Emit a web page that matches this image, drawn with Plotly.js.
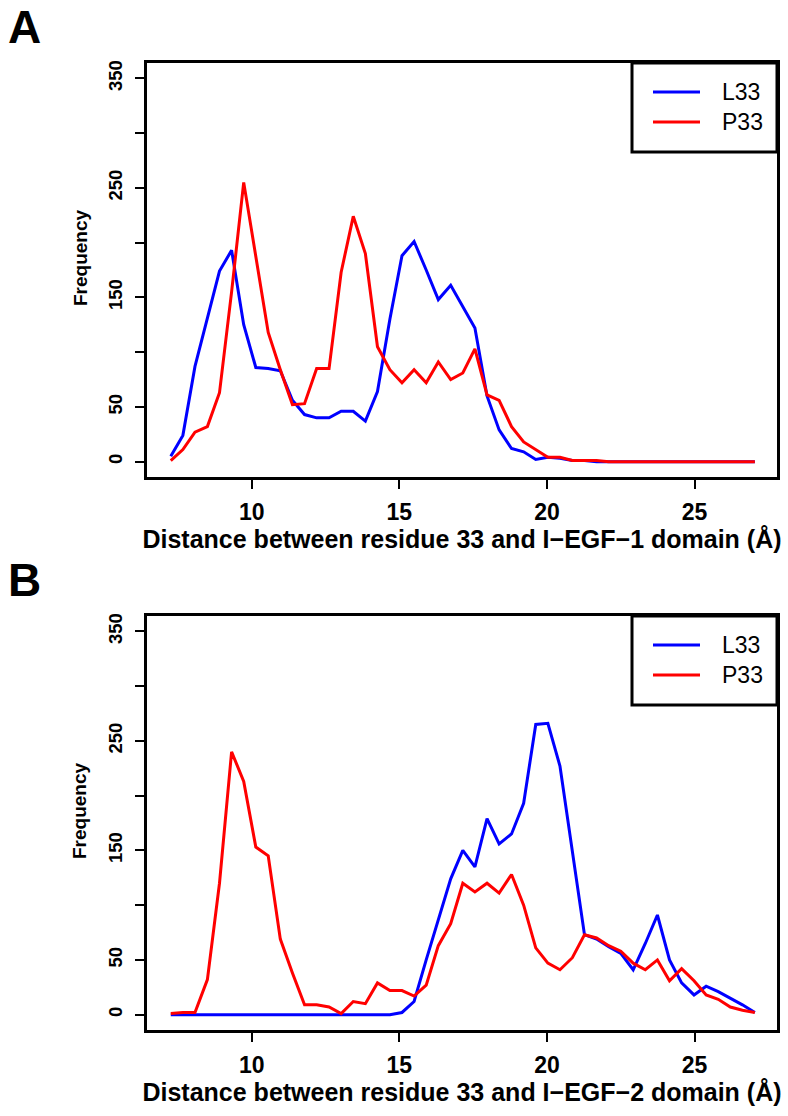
<!DOCTYPE html>
<html><head><meta charset="utf-8">
<script src="https://cdn.plot.ly/plotly-3.0.1.min.js"></script>
<style>body{margin:0;background:#fff}#c{width:788px;height:1116px}</style>
</head><body><div id="c"></div>
<script>
// Bin centres (distance, Å)
const distance = [7.26,7.67,8.08,8.50,8.91,9.32,9.73,10.14,10.56,10.97,11.38,11.79,12.20,12.62,13.03,13.44,13.85,14.26,14.68,15.09,15.50,15.91,16.32,16.74,17.15,17.56,17.97,18.38,18.80,19.21,19.62,20.03,20.44,20.86,21.27,21.68,22.09,22.50,22.92,23.33,23.74,24.15,24.56,24.98,25.39,25.80,26.21,26.62,27.04];
// Panel A: residue 33 to I-EGF-1 domain
const A_L33 = [5,24,87,130,174,193,125,86,85,83,56,43,40,40,46,46,37,64,130,188,201,175,148,161,142,122,60,29,12,9,2,4,3,1,1,0,0,0,0,0,0,0,0,0,0,0,0,0,0];
const A_P33 = [1,11,27,32,63,155,255,186,118,84,52,53,85,85,173,224,190,105,84,72,84,72,91,75,81,103,61,56,32,18,11,4,4,1,1,1,0,0,0,0,0,0,0,0,0,0,0,0,0];
// Panel B: residue 33 to I-EGF-2 domain
const B_L33 = [0,0,0,0,0,0,0,0,0,0,0,0,0,0,0,0,0,0,0,2,12,50,86,124,150,135,179,156,165,193,265,266,227,147,73,69,62,56,41,65,91,50,29,18,26,21,15,9,2];
const B_P33 = [1,2,2,32,120,240,213,153,145,69,38,9,9,7,1,12,10,29,22,22,17,27,63,83,120,112,120,111,128,100,61,47,41,52,73,70,63,58,47,41,50,31,42,31,18,14,7,4,2];
// Ticks
const xTicks = [10,15,20,25];
const yTicks = [0,50,100,150,200,250,300,350];
const yTickText = ['0','50','','150','','250','','350'];
const seriesNames = ['L33','P33'];
const seriesColors = ['#0000FF','#FF0000'];
const xTitleA = 'Distance between residue 33 and I\u2212EGF\u22121 domain (\u00C5)';
const xTitleB = 'Distance between residue 33 and I\u2212EGF\u22122 domain (\u00C5)';
const yTitle = 'Frequency';
const panelLabels = ['A','B'];

const FONT = 'Liberation Sans, Arial, sans-serif';
function tr(y, i, xa, ya){
  return {x: distance, y: y, type:'scatter', mode:'lines', name: seriesNames[i], showlegend:false,
    line:{color: seriesColors[i], width:3}, xaxis: xa, yaxis: ya};
}
const data = [
  tr(A_L33,0,'x','y'), tr(A_P33,1,'x','y'),
  tr(B_L33,0,'x2','y2'), tr(B_P33,1,'x2','y2')
];
const W=788,H=1116;
const px = v => v/W, py = v => 1 - v/H;
function xax(title, anchor){
  return {domain:[px(147),px(777)], anchor:anchor, range:[6.455,27.79], tickvals:xTicks,
    ticks:'outside', ticklen:9, tickwidth:2, tickcolor:'#000', showline:true, mirror:true,
    linewidth:3, linecolor:'#000', showgrid:false, zeroline:false, ticklabelstandoff:3,
    tickfont:{family:FONT,size:23,color:'#000',weight:'bold'},
    title:{text:title, font:{family:FONT,size:25,color:'#000',weight:'bold'}, standoff:5}};
}
function yax(top,bottom,anchor){
  return {domain:[py(bottom),py(top)], anchor:anchor, range:[-14,364], tickvals:yTicks, ticktext:yTickText,
    tickangle:-90, ticks:'outside', ticklen:9, tickwidth:2, tickcolor:'#000', showline:true, mirror:true,
    linewidth:3, linecolor:'#000', showgrid:false, zeroline:false, ticklabelstandoff:6,
    tickfont:{family:FONT,size:18.5,color:'#000',weight:'bold'}};
}
// legend boxes drawn in pixel geometry of each panel
function legendItems(top){
  const shapes = [
    {type:'rect', xref:'paper', yref:'paper', x0:px(632), x1:px(777), y0:py(top+89), y1:py(top), line:{color:'#000',width:3}}
  ];
  const ann = [];
  seriesNames.forEach((n,i)=>{
    const yy = top + 29 + i*30;
    shapes.push({type:'line', xref:'paper', yref:'paper', x0:px(653), x1:px(700), y0:py(yy), y1:py(yy), line:{color:seriesColors[i],width:3}});
    ann.push({text:n, xref:'paper', yref:'paper', x:px(720), y:py(yy), xanchor:'left', yanchor:'middle', showarrow:false,
      font:{family:FONT,size:23,color:'#000'}});
  });
  return {shapes, ann};
}
const LA = legendItems(63), LB = legendItems(616);
function yLab(yc){
  return {text:yTitle, xref:'paper', yref:'paper', x:px(80), y:py(yc), xanchor:'center', yanchor:'middle',
    textangle:-90, showarrow:false, font:{family:FONT,size:19,weight:'bold',color:'#000'}};
}
const layout = {
  width:W, height:H, margin:{l:0,r:0,t:0,b:0}, paper_bgcolor:'#fff', plot_bgcolor:'#fff',
  font:{family:FONT,color:'#000'}, showlegend:false,
  xaxis: xax(xTitleA,'y'), yaxis: yax(63,477,'x'),
  xaxis2: xax(xTitleB,'y2'), yaxis2: yax(616,1030,'x2'),
  shapes: LA.shapes.concat(LB.shapes),
  annotations: LA.ann.concat(LB.ann).concat([
    yLab(258), yLab(811),
    {text:panelLabels[0], xref:'paper', yref:'paper', x:px(24), y:py(27), xanchor:'center', yanchor:'middle', showarrow:false, font:{family:FONT,size:46,weight:'bold',color:'#000'}},
    {text:panelLabels[1], xref:'paper', yref:'paper', x:px(24), y:py(580), xanchor:'center', yanchor:'middle', showarrow:false, font:{family:FONT,size:46,weight:'bold',color:'#000'}}
  ])
};
Plotly.newPlot('c', data, layout, {staticPlot:true, displayModeBar:false});
</script></body></html>
